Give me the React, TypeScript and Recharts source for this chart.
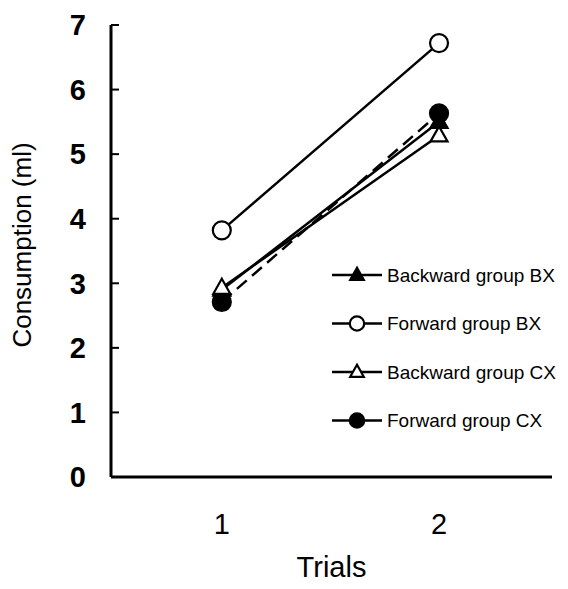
import React from 'react';
import { LineChart, Line, XAxis, YAxis, Legend, Label } from 'recharts';

const trials = [1, 2];
const backwardBX = [2.9, 5.5];
const forwardBX = [3.82, 6.72];
const backwardCX = [2.93, 5.29];
const forwardCX = [2.71, 5.63];
const yTicks = [0, 1, 2, 3, 4, 5, 6, 7];

const data = trials.map((t, i) => ({
  trial: t,
  backwardBX: backwardBX[i],
  forwardBX: forwardBX[i],
  backwardCX: backwardCX[i],
  forwardCX: forwardCX[i],
}));

const FONT = 'Liberation Sans, Arial, sans-serif';

type Shape = 'triangleFilled' | 'triangleOpen' | 'circleOpen' | 'circleFilled';

const Marker = ({ cx, cy, shape, s = 1 }: { cx: number; cy: number; shape: Shape; s?: number }) => {
  if (cx == null || cy == null) return null;
  if (shape === 'triangleFilled' || shape === 'triangleOpen') {
    const h = 15 * s;
    const w = 17 * s;
    const pts = `${cx},${cy - h * 0.6} ${cx - w / 2},${cy + h * 0.4} ${cx + w / 2},${cy + h * 0.4}`;
    return (
      <polygon
        points={pts}
        fill={shape === 'triangleFilled' ? '#000' : '#fff'}
        stroke="#000"
        strokeWidth={2.2}
      />
    );
  }
  return (
    <circle
      cx={cx}
      cy={cy}
      r={9 * s}
      fill={shape === 'circleFilled' ? '#000' : '#fff'}
      stroke="#000"
      strokeWidth={2.2}
    />
  );
};

const legendItems: { name: string; shape: Shape }[] = [
  { name: 'Backward group BX', shape: 'triangleFilled' },
  { name: 'Forward group BX', shape: 'circleOpen' },
  { name: 'Backward group CX', shape: 'triangleOpen' },
  { name: 'Forward group CX', shape: 'circleFilled' },
];

const LegendContent = () => (
  <svg width={236} height={200} style={{ display: 'block' }}>
    {legendItems.map((item, i) => {
      const y = 14 + i * 48.5;
      return (
        <g key={item.name}>
          <line x1={2} x2={52} y1={y} y2={y} stroke="#000" strokeWidth={2.5} />
          <Marker cx={27} cy={y} shape={item.shape} s={0.8} />
          <text x={57} y={y} dy="0.35em" fontSize={19} fontFamily={FONT} fill="#000">
            {item.name}
          </text>
        </g>
      );
    })}
  </svg>
);

const makeDot = (shape: Shape) => (props: any) => (
  <Marker key={`${shape}-${props.index}`} cx={props.cx} cy={props.cy} shape={shape} />
);

export default function App() {
  return (
    <div style={{ position: 'absolute', left: 0, top: 0, width: 568, height: 589, background: '#fff' }}>
      <LineChart
        width={568}
        height={589}
        data={data}
        margin={{ top: 25, right: 16, bottom: 0, left: 0 }}
      >
        <XAxis
          dataKey="trial"
          type="number"
          domain={[0.49, 2.52]}
          ticks={trials}
          height={112}
          axisLine={{ stroke: '#000', strokeWidth: 3 }}
          tickLine={false}
          tickSize={0}
          tickMargin={36}
          tick={{ fill: '#000', fontSize: 29, fontFamily: FONT }}
          allowDataOverflow
        >
          <Label
            value="Trials"
            position="insideBottom"
            offset={12}
            style={{ fill: '#000', fontSize: 29, fontFamily: FONT }}
          />
        </XAxis>
        <YAxis
          domain={[0, 7]}
          ticks={yTicks}
          width={111}
          axisLine={{ stroke: '#000', strokeWidth: 3 }}
          tickLine={{ stroke: '#000', strokeWidth: 2 }}
          tickSize={-8}
          tickMargin={33}
          tick={{ fill: '#000', fontSize: 29, fontFamily: FONT, fontWeight: 'bold' }}
          interval={0}
        >
          <Label
            value="Consumption (ml)"
            angle={-90}
            position="insideLeft"
            offset={22}
            dy={-6}
            style={{ fill: '#000', fontSize: 26, fontFamily: FONT, textAnchor: 'middle' }}
          />
        </YAxis>
        <Legend
          layout="horizontal"
          verticalAlign="middle"
          align="center"
          wrapperStyle={{ left: 330, top: 261, width: 236, height: 200 }}
          content={<LegendContent />}
        />
        <Line
          dataKey="backwardBX"
          stroke="#000"
          strokeWidth={2.5}
          dot={makeDot('triangleFilled')}
          isAnimationActive={false}
        />
        <Line
          dataKey="forwardBX"
          stroke="#000"
          strokeWidth={2.5}
          dot={makeDot('circleOpen')}
          isAnimationActive={false}
        />
        <Line
          dataKey="forwardCX"
          stroke="#000"
          strokeWidth={2.5}
          strokeDasharray="13 7"
          dot={makeDot('circleFilled')}
          isAnimationActive={false}
        />
        <Line
          dataKey="backwardCX"
          stroke="#000"
          strokeWidth={2.5}
          dot={makeDot('triangleOpen')}
          isAnimationActive={false}
        />
      </LineChart>
    </div>
  );
}
